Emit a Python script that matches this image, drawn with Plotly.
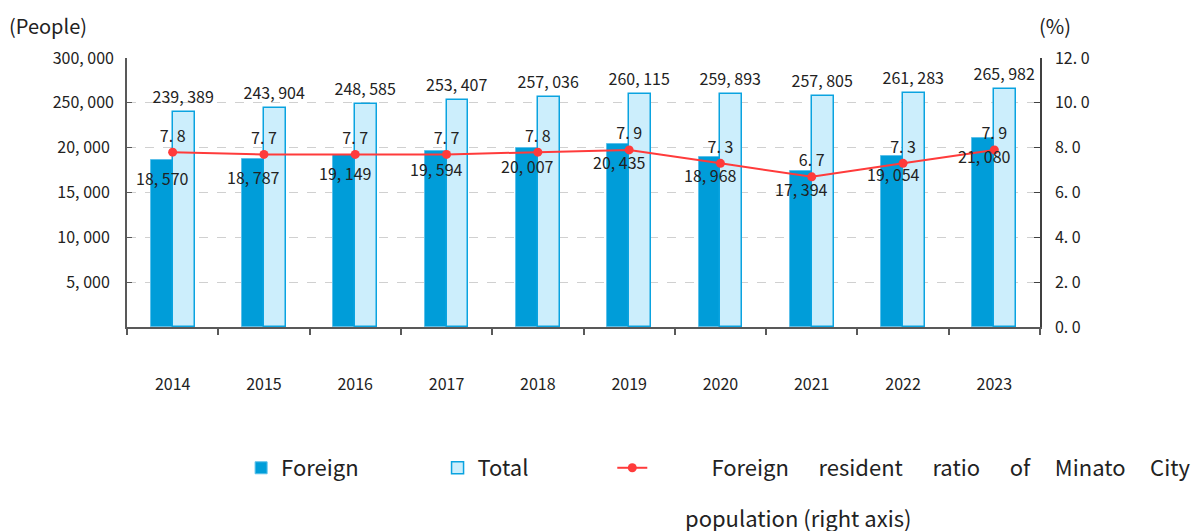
import plotly.graph_objects as go

years = ["2014", "2015", "2016", "2017", "2018", "2019", "2020", "2021", "2022", "2023"]
foreign = [18570, 18787, 19149, 19594, 20007, 20435, 18968, 17394, 19054, 21080]
total = [239389, 243904, 248585, 253407, 257036, 260115, 259893, 257805, 261283, 265982]
ratio = [7.8, 7.7, 7.7, 7.7, 7.8, 7.9, 7.3, 6.7, 7.3, 7.9]

left_ticks_foreign = [5000, 10000, 15000, 20000]
left_ticks_total = [250000, 300000]
right_ticks = [0, 2, 4, 6, 8, 10, 12]

FONT = "Noto Sans CJK JP"
TXT = "#222222"
AX = "#595959"
NB = "\u00a0"


def fmt_int(v):
    return f"{v:,}".replace(",", ", ")


def fmt_dec(v):
    return f"{v:.1f}".replace(".", ". ")


fig = go.Figure()

fig.add_trace(go.Bar(
    x=years, y=foreign, name="Foreign" + NB * 15, yaxis="y",
    width=0.24, offset=-0.24,
    marker=dict(color="#009DD9", line=dict(color="#5CC0EA", width=1)),
))

fig.add_trace(go.Bar(
    x=years, y=total, name="Total" + NB * 16, yaxis="y2",
    width=0.24, offset=0,
    marker=dict(color="#CCEEFC", line=dict(color="#0AA3E0", width=1.5)),
    text=[fmt_int(v) for v in total], textposition="outside", textangle=0,
    constraintext="none",
    outsidetextfont=dict(family=FONT, size=16, color=TXT),
    cliponaxis=False,
))

fig.add_trace(go.Scatter(
    x=years, y=ratio, yaxis="y3", mode="lines+markers+text",
    name=NB * 12 + "Foreign" + NB * 6 + "resident" + NB * 6 + "ratio" + NB * 6 + "of"
         + NB * 5 + "Minato" + NB * 5 + "City",
    line=dict(color="#FF3B3B", width=2),
    marker=dict(color="#FF3B3B", size=9),
    text=[fmt_dec(v) for v in ratio], textposition="top center",
    textfont=dict(family=FONT, size=16, color=TXT),
    cliponaxis=False,
))

annotations = [
    dict(text=fmt_int(v), x=i, y=v, xref="x", yref="y", showarrow=False,
         xanchor="center", yanchor="middle", xshift=-10, yshift=-18,
         font=dict(family=FONT, size=16, color=TXT))
    for i, v in enumerate(foreign)
]
annotations += [
    dict(text="(People)", xref="paper", yref="paper", x=-0.131, y=1.184,
         xanchor="left", yanchor="top", showarrow=False,
         font=dict(family=FONT, size=20, color=TXT)),
    dict(text="(%)", xref="paper", yref="paper", x=0.997, y=1.184,
         xanchor="left", yanchor="top", showarrow=False,
         font=dict(family=FONT, size=20, color=TXT)),
    dict(text="population (right axis)", xref="paper", yref="paper", x=0.609, y=-0.706,
         xanchor="left", yanchor="middle", showarrow=False,
         font=dict(family=FONT, size=22, color=TXT)),
]

fig.update_layout(
    width=1200, height=531,
    margin=dict(l=119, r=168, t=50, b=212, autoexpand=False),
    paper_bgcolor="white", plot_bgcolor="white",
    font=dict(family=FONT, size=16, color=TXT),
    showlegend=True,
    bargap=0,
    xaxis=dict(
        type="category", range=[-0.5, 9.5], showline=True, linecolor=AX, linewidth=2,
        ticks="outside", tickson="boundaries", ticklen=6, tickcolor=AX, tickwidth=1.5,
        ticklabelstandoff=42, tickfont=dict(family=FONT, size=16, color=TXT),
        showgrid=False, zeroline=False, automargin=False,
    ),
    yaxis=dict(
        range=[0, 30000], tickvals=left_ticks_foreign,
        ticktext=[fmt_int(v) for v in left_ticks_foreign],
        showline=True, linecolor=AX, linewidth=2,
        ticks="inside", ticklen=5, tickcolor=AX,
        showgrid=True, gridcolor="#D0D0D0", griddash="dash", gridwidth=1,
        zeroline=False, ticklabelstandoff=12, automargin=False,
        tickfont=dict(family=FONT, size=16, color=TXT),
    ),
    yaxis2=dict(
        range=[0, 300000], tickvals=left_ticks_total,
        ticktext=[fmt_int(v) for v in left_ticks_total],
        overlaying="y", side="left", anchor="x",
        showline=False, ticks="inside", ticklen=5, tickcolor=AX,
        showgrid=True, gridcolor="#D0D0D0", griddash="dash", gridwidth=1,
        zeroline=False, ticklabelstandoff=12, automargin=False,
        tickfont=dict(family=FONT, size=16, color=TXT),
    ),
    yaxis3=dict(
        range=[0, 12], tickvals=right_ticks,
        ticktext=[fmt_dec(v) for v in right_ticks],
        overlaying="y", side="right", anchor="x",
        showline=True, linecolor="#404040", linewidth=1.5,
        ticks="inside", ticklen=6, tickcolor="#404040",
        showgrid=False, zeroline=False, ticklabelstandoff=10, automargin=False,
        tickfont=dict(family=FONT, size=16, color=TXT),
    ),
    legend=dict(
        orientation="h", x=1.171, xanchor="right", y=-0.446, yanchor="top",
        valign="middle", tracegroupgap=0,
        font=dict(family=FONT, size=22, color=TXT),
        bgcolor="rgba(0,0,0,0)",
    ),
    annotations=annotations,
)

fig.write_html("out.html")
